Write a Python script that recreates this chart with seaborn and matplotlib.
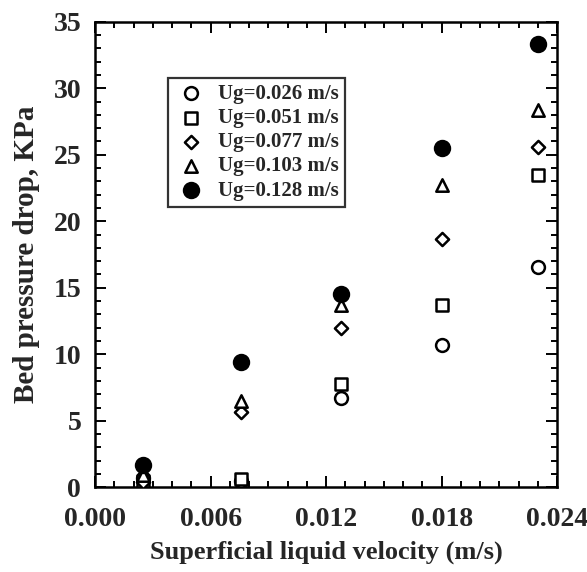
import matplotlib
matplotlib.use("Agg")
import matplotlib.pyplot as plt
import seaborn as sns
import pandas as pd
from matplotlib.ticker import MultipleLocator, FormatStrFormatter

# Data
velocity = [0.0025, 0.0076, 0.0128, 0.018, 0.023]
ug_labels = ["Ug=0.026 m/s", "Ug=0.051 m/s", "Ug=0.077 m/s", "Ug=0.103 m/s", "Ug=0.128 m/s"]
dp_026 = [0.7, 0.5, 6.7, 10.7, 16.6]
dp_051 = [0.5, 0.6, 7.8, 13.7, 23.5]
dp_077 = [0.4, 5.7, 12.0, 18.7, 25.6]
dp_103 = [0.9, 6.5, 13.7, 22.7, 28.4]
dp_128 = [1.7, 9.4, 14.5, 25.5, 33.3]

series = [dp_026, dp_051, dp_077, dp_103, dp_128]
markers = ["o", "s", "D", "^", "o"]
faces = ["white", "white", "white", "white", "black"]
sizes = [85, 85, 45, 80, 115]

sns.set_theme(style="white")
plt.rcParams["font.family"] = ["Liberation Serif", "DejaVu Serif"]
plt.rcParams["font.weight"] = "bold"

fig = plt.figure(figsize=(5.87, 5.72), dpi=100)
ax = fig.add_axes([0.162, 0.148, 0.787, 0.814])

for vals, lab, m, fc, s in zip(series, ug_labels, markers, faces, sizes):
    df = pd.DataFrame({"x": velocity, "y": vals})
    sns.scatterplot(data=df, x="x", y="y", ax=ax, marker=m, s=s,
                    facecolor=fc, edgecolor="black", linewidth=1.8,
                    label=lab, zorder=3)

ax.set_xlim(0, 0.024)
ax.set_ylim(0, 35)
ax.xaxis.set_major_locator(MultipleLocator(0.006))
ax.xaxis.set_minor_locator(MultipleLocator(0.001))
ax.yaxis.set_major_locator(MultipleLocator(5))
ax.yaxis.set_minor_locator(MultipleLocator(1))
ax.xaxis.set_major_formatter(FormatStrFormatter("%.3f"))
ax.tick_params(which="both", direction="in", top=True, right=True,
               bottom=True, left=True, color="black", width=1.4)
ax.tick_params(which="major", length=8)
ax.tick_params(which="minor", length=4)
ax.tick_params(axis="x", which="major", labelsize=20, pad=14)
ax.tick_params(axis="y", which="major", labelsize=20, pad=10)
for lbl in ax.get_xticklabels() + ax.get_yticklabels():
    lbl.set_fontweight("bold")
for sp in ax.spines.values():
    sp.set_color("black")
    sp.set_linewidth(1.8)

ax.set_xlabel("Superficial liquid velocity (m/s)", fontsize=19, fontweight="bold", labelpad=6)
ax.set_ylabel("Bed pressure drop, KPa", fontsize=21, fontweight="bold", labelpad=10)

leg = ax.legend(loc="upper left", bbox_to_anchor=(0.158, 0.88), borderaxespad=0,
                prop={"family": "Liberation Serif", "weight": "bold", "size": 15},
                frameon=True, fancybox=False, edgecolor="black", markerscale=1.0,
                handletextpad=0.5, labelspacing=0.2, borderpad=0.3, handlelength=1.6)
leg.get_frame().set_linewidth(1.6)

fig.savefig("out.png", dpi=100)
